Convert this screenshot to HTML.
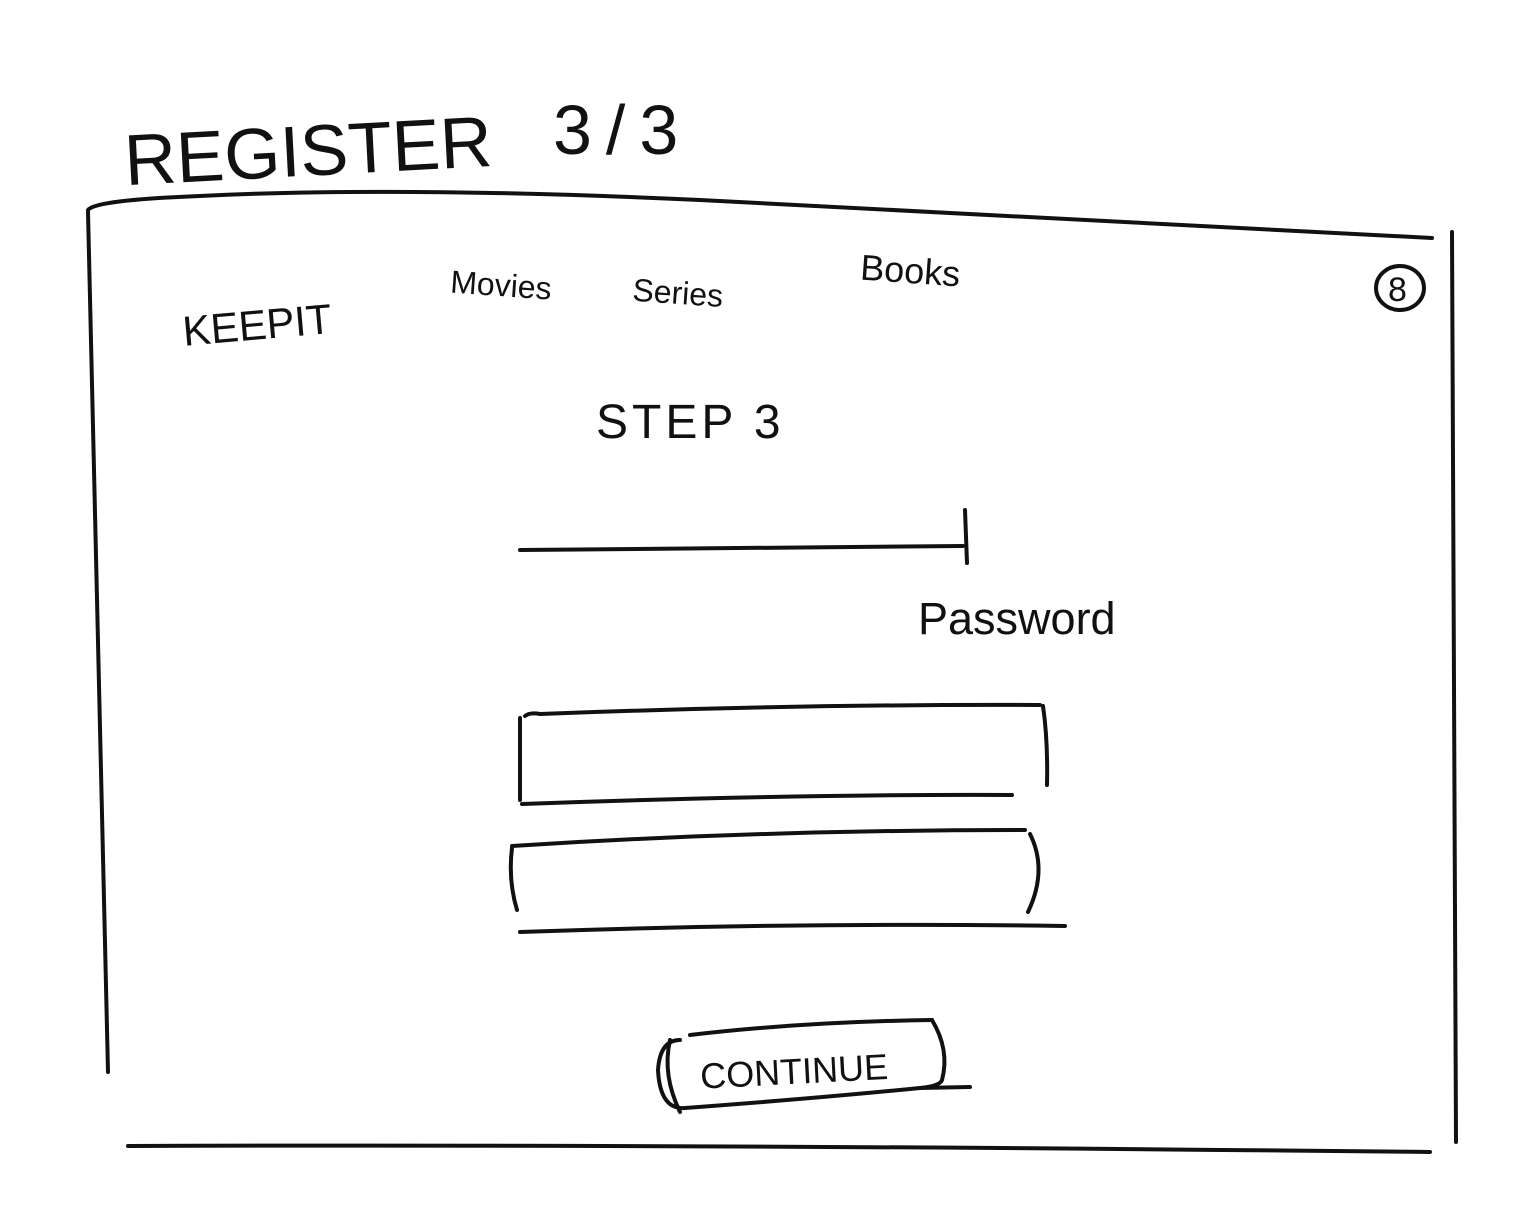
<!DOCTYPE html>
<html><head><meta charset="utf-8"><style>
html,body{margin:0;padding:0;background:#fff;width:1522px;height:1230px;overflow:hidden}
svg{display:block}
text{font-family:"Liberation Sans",sans-serif;fill:#111}
</style></head><body>
<svg width="1522" height="1230" viewBox="0 0 1522 1230" xmlns="http://www.w3.org/2000/svg">
<g fill="none" stroke="#111" stroke-width="4" stroke-linecap="round" stroke-linejoin="round">
<path d="M88 210 Q95 200 200 196 Q400 186 700 200 Q1100 220 1432 238"/>
<path d="M88 212 L108 1072"/>
<path d="M1452 232 L1456 1142"/>
<path d="M128 1146 Q700 1144 1430 1152"/>
<path d="M520 550 Q700 548 963 546"/>
<path d="M965 510 L967 563"/>
<path d="M525 716 Q530 712 540 714 Q800 704 1040 705"/>
<path d="M520 718 L520 800"/>
<path d="M1043 706 Q1048 740 1047 785"/>
<path d="M522 804 Q800 794 1012 795"/>
<path d="M512 846 Q760 830 1025 830"/>
<path d="M512 848 Q508 880 517 910"/>
<path d="M1030 834 Q1048 870 1028 912"/>
<path d="M520 932 Q800 922 1065 926"/>
<path d="M690 1035 Q800 1022 932 1020"/>
<path d="M932 1020 Q950 1050 942 1080 Q940 1086 920 1088"/>
<path d="M680 1040 Q660 1040 658 1070 Q660 1110 685 1108 Q820 1098 920 1088 L970 1087"/>
<path d="M670 1040 Q662 1075 680 1112"/>
<ellipse cx="1400" cy="288" rx="24" ry="22"/>
</g>
<text x="124" y="176" font-size="72" letter-spacing="0" transform="rotate(-3 300 150)">REGISTER</text>
<text x="553" y="154" font-size="70" letter-spacing="14">3/3</text>
<text x="182" y="340" font-size="42" transform="rotate(-5 250 320)">KEEPIT</text>
<text x="450" y="296" font-size="32" transform="rotate(4 500 290)">Movies</text>
<text x="632" y="304" font-size="32" transform="rotate(4 680 300)">Series</text>
<text x="860" y="283" font-size="36" transform="rotate(4 910 275)">Books</text>
<text x="1388" y="301" font-size="34">8</text>
<text x="596" y="438" font-size="48" letter-spacing="4">STEP 3</text>
<text x="918" y="634" font-size="45">Password</text>
<text x="700" y="1084" font-size="36" transform="rotate(-3 790 1070)">CONTINUE</text>
</svg>
</body></html>
